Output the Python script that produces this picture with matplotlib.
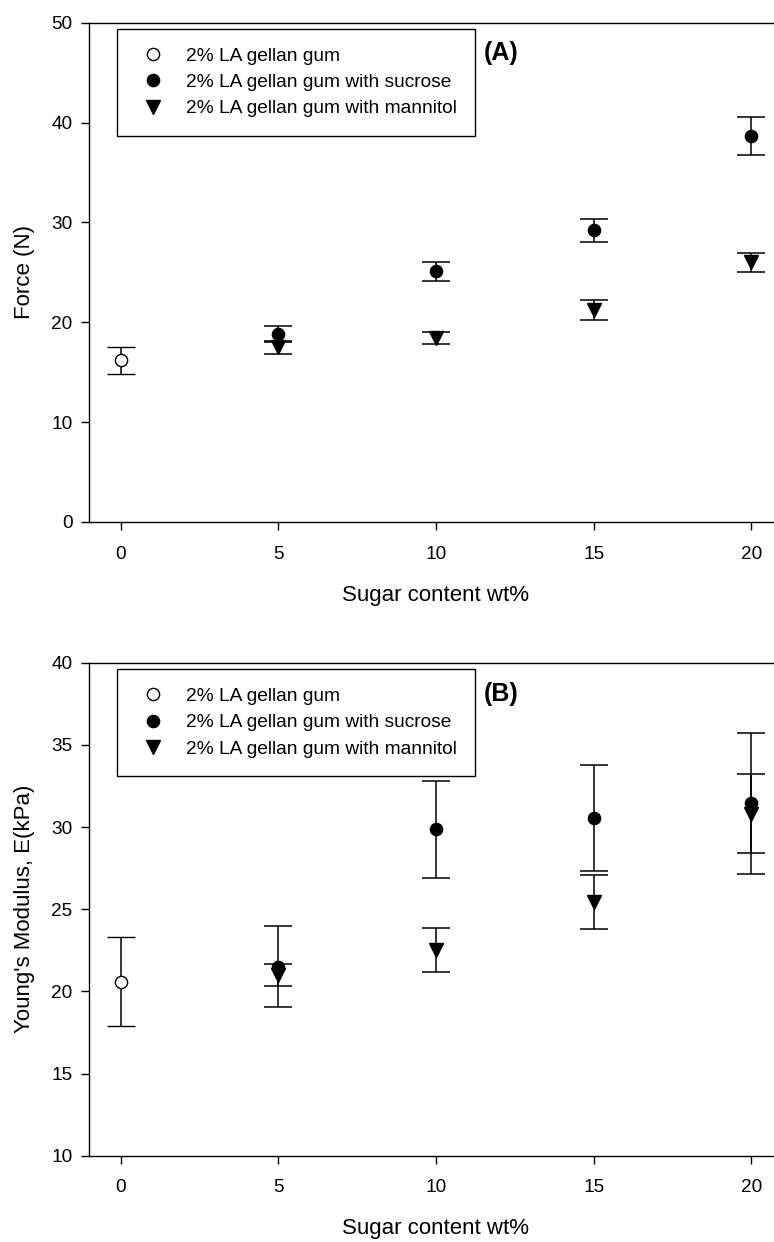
import matplotlib
matplotlib.use("Agg")
import matplotlib.pyplot as plt
from matplotlib.ticker import MultipleLocator

plt.rcParams['font.family'] = ['Liberation Sans', 'DejaVu Sans']

# ---- data ----
x_base = [0]
x_sugar = [5, 10, 15, 20]
labels = ["2% LA gellan gum", "2% LA gellan gum with sucrose", "2% LA gellan gum with mannitol"]

force_base = [16.2]
force_base_err = [1.35]
force_sucrose = [18.8, 25.1, 29.2, 38.7]
force_sucrose_err = [0.8, 0.97, 1.15, 1.9]
force_mannitol = [17.5, 18.4, 21.2, 26.0]
force_mannitol_err = [0.65, 0.58, 1.0, 0.97]

ym_base = [20.6]
ym_base_err = [2.7]
ym_sucrose = [21.5, 29.85, 30.55, 31.45]
ym_sucrose_err = [2.45, 2.93, 3.2, 4.3]
ym_mannitol = [21.0, 22.5, 25.45, 30.8]
ym_mannitol_err = [0.65, 1.33, 1.66, 2.4]

W, H = 774, 1242
fig = plt.figure(figsize=(W / 100, H / 100), dpi=100)

TICK_FS = 13.7
LAB_FS = 16
LEG_FS = 13.8


def panel(rect, base, base_err, suc, suc_err, man, man_err, ylim, ystep, ylabel, tag, leg_top, tag_y):
    ax = fig.add_axes(rect)
    eb = dict(ecolor='black', elinewidth=1.1, capsize=10, capthick=1.1, linestyle='none')
    h0 = ax.errorbar(x_base, base, yerr=base_err, fmt='o', ms=8.8, mfc='white', mec='black',
                     mew=1.0, zorder=3, **eb)
    h1 = ax.errorbar(x_sugar, suc, yerr=suc_err, fmt='o', ms=8.8, mfc='black', mec='black',
                     zorder=4, **eb)
    h2 = ax.errorbar(x_sugar, man, yerr=man_err, fmt='v', ms=9.5, mfc='black', mec='black',
                     zorder=5, **eb)
    ax.set_xlim(-1, 21)
    ax.set_ylim(*ylim)
    ax.xaxis.set_major_locator(MultipleLocator(5))
    ax.yaxis.set_major_locator(MultipleLocator(ystep))
    ax.tick_params(direction='out', length=5.5, width=1.0, labelsize=TICK_FS, top=False, right=False)
    ax.tick_params(axis='x', pad=11.5)
    ax.tick_params(axis='y', pad=6.5)
    for s in ax.spines.values():
        s.set_linewidth(1.0)
    ax.set_xlabel("Sugar content wt%", fontsize=LAB_FS)
    ax.set_ylabel(ylabel, fontsize=LAB_FS)
    ax.xaxis.set_label_coords(0.5, -0.126)
    ax.yaxis.set_label_coords(-0.078, 0.5)
    ax.text(0.5937, tag_y, tag, transform=ax.transAxes, ha='center', va='center',
            fontsize=18, fontweight='bold')
    leg = ax.legend([h0.lines[0], h1.lines[0], h2.lines[0]], labels, loc='upper left',
                    bbox_to_anchor=(117 / W, 1 - leg_top / H), bbox_transform=fig.transFigure,
                    borderaxespad=0, fontsize=LEG_FS, frameon=True, fancybox=False,
                    edgecolor='black', framealpha=1, borderpad=0.95, labelspacing=0.47,
                    handlelength=1.85, handletextpad=0.79)
    leg.get_frame().set_linewidth(1.0)
    return ax


panel([89.2 / W, (H - 522) / H, 693.6 / W, 499.3 / H],
      force_base, force_base_err, force_sucrose, force_sucrose_err,
      force_mannitol, force_mannitol_err, (0, 50), 10, "Force (N)", "(A)", 29, 0.940)
panel([89.2 / W, (H - 1155.7) / H, 693.6 / W, 493 / H],
      ym_base, ym_base_err, ym_sucrose, ym_sucrose_err,
      ym_mannitol, ym_mannitol_err, (10, 40), 5, "Young's Modulus, E(kPa)", "(B)", 669.3, 0.9365)

fig.savefig("out.png", dpi=100)
